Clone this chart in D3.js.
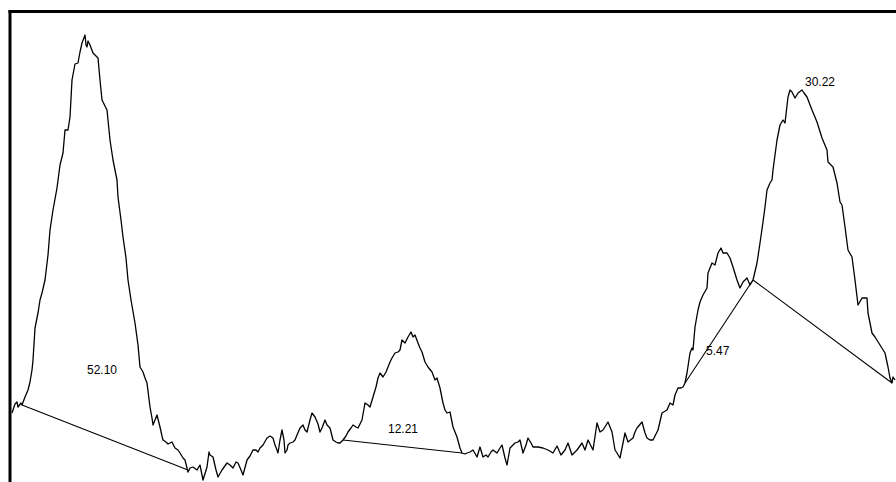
<!DOCTYPE html>
<html>
<head>
<meta charset="utf-8">
<script src="https://cdn.jsdelivr.net/npm/d3@7"></script>
<style>
  html, body { margin: 0; padding: 0; background: #fff; }
  svg { display: block; }
</style>
</head>
<body>
<svg id="chart" width="896" height="482"></svg>
<script>
// Detector trace: time (s) and signal (arbitrary units)
const time = [
  0,3,5,6,9,10,13,16,18,20,21,23,26,28,30,33,36,38,41,45,48,51,53,56,58,60,63,66,68,70,
  73,74,75,76,78,81,84,86,88,90,93,95,98,101,105,106,109,111,114,116,119,123,126,128,131,133,135,138,140,141,
  143,145,148,150,151,154,156,158,160,163,166,168,171,173,176,178,181,185,188,191,195,197,198,201,204,206,210,215,218,221,
  224,226,229,231,235,238,241,244,246,248,251,255,258,261,263,265,266,268,270,272,273,275,276,278,281,283,285,288,291,293,
  295,298,300,303,306,308,310,313,315,318,321,324,326,328,331,334,336,339,341,344,346,348,350,353,356,358,361,364,366,368,
  371,374,376,378,380,383,386,388,390,393,396,399,401,403,406,408,410,413,416,420,423,425,428,431,433,435,438,441,445,448,
  450,453,455,458,461,465,468,471,474,476,479,481,485,488,490,493,495,498,501,503,506,508,511,514,516,519,521,526,531,536,
  541,545,549,553,556,560,565,570,573,576,579,581,585,588,591,596,600,603,605,608,613,616,621,623,625,630,633,635,638,641,
  646,650,655,658,661,663,666,669,671,673,675,678,680,681,683,686,688,691,695,696,700,703,706,709,711,715,718,721,725,728,
  731,735,738,741,745,748,751,753,755,758,760,761,765,768,771,773,776,778,780,783,786,790,792,795,800,805,810,815,816,821,
  825,828,830,833,836,840,843,846,850,855,856,860,863,868,873,876,878,880,881,883
];
const signal = [
  57,66,68,63,67,65,73,80,88,100,110,142,157,170,177,190,215,240,260,282,305,317,340,340,353,390,406,407,418,427,
  435,425,423,429,425,417,414,412,390,370,364,360,330,310,290,273,250,233,212,190,170,147,125,103,98,92,87,63,52,45,
  50,55,43,34,30,28,26,27,28,22,20,17,12,10,-2,2,3,0,5,-10,3,18,15,13,0,-7,0,7,5,2,
  8,7,0,-5,10,14,20,20,18,22,25,32,34,32,25,20,17,30,40,30,17,20,25,27,28,30,35,42,45,40,
  38,50,57,53,46,38,42,50,45,42,30,28,27,27,30,34,38,42,45,43,42,46,50,67,65,63,73,83,92,97,
  93,98,103,108,112,117,118,120,130,127,133,138,133,135,127,122,118,108,103,98,90,92,82,67,60,57,58,43,33,22,
  17,16,17,18,20,13,23,13,15,13,18,20,17,22,25,12,5,22,25,27,28,30,17,25,32,27,23,23,22,20,
  17,24,15,20,27,15,20,27,20,30,24,20,47,38,40,48,38,20,17,12,37,28,32,38,42,48,37,32,30,30,
  40,57,60,67,65,75,82,82,83,87,97,117,122,120,143,160,168,175,182,197,207,205,217,222,217,217,212,203,190,182,
  188,192,185,190,207,227,248,263,280,287,290,300,330,345,350,347,373,380,378,372,377,380,377,373,360,348,332,320,308,303,
  287,268,265,243,220,213,190,165,172,172,157,137,133,125,117,103,92,87,93,90
];

// Integration baselines drawn under each peak
const baseStartTime = [10, 331, 673, 741];
const baseStartSignal = [65, 30, 87, 190];
const baseEndTime = [176, 450, 741, 880];
const baseEndSignal = [0, 17, 190, 87];

// Peak areas and where their annotations sit (data units)
const peakArea = ["52.10", "12.21", "5.47", "30.22"];
const labelTime = [75, 376, 694, 793];
const labelSignal = [96, 37, 115, 384];

const svg = d3.select("#chart");
const W = 896, H = 482;

svg.append("rect").attr("width", W).attr("height", H).attr("fill", "#fff");

const x = d3.scaleLinear().domain([0, 880]).range([12, 892]);
const y = d3.scaleLinear().domain([0, 450]).range([470, 20]);

const points = time.map((t, i) => [t, signal[i]]);

// Frame on the top and left edges of the plot
svg.append("line")
  .attr("x1", 8.5).attr("x2", W).attr("y1", 11.5).attr("y2", 11.5)
  .attr("stroke", "#000").attr("stroke-width", 3);
svg.append("line")
  .attr("x1", 10).attr("x2", 10).attr("y1", 10).attr("y2", H)
  .attr("stroke", "#000").attr("stroke-width", 3);

// Baselines
svg.append("g").selectAll("line")
  .data(baseStartTime)
  .join("line")
  .attr("x1", (d, i) => x(baseStartTime[i]))
  .attr("y1", (d, i) => y(baseStartSignal[i]))
  .attr("x2", (d, i) => x(baseEndTime[i]))
  .attr("y2", (d, i) => y(baseEndSignal[i]))
  .attr("stroke", "#000")
  .attr("stroke-width", 1.1);

// Trace
svg.append("path")
  .datum(points)
  .attr("fill", "none")
  .attr("stroke", "#000")
  .attr("stroke-width", 1.3)
  .attr("stroke-linejoin", "round")
  .attr("d", d3.line().x(d => x(d[0])).y(d => y(d[1])));

// Area annotations
svg.append("g").selectAll("text")
  .data(peakArea)
  .join("text")
  .attr("x", (d, i) => x(labelTime[i]))
  .attr("y", (d, i) => y(labelSignal[i]))
  .attr("font-family", "'Liberation Sans', Arial, sans-serif")
  .attr("font-size", 12)
  .attr("fill", "#000")
  .text(d => d);
</script>
</body>
</html>
